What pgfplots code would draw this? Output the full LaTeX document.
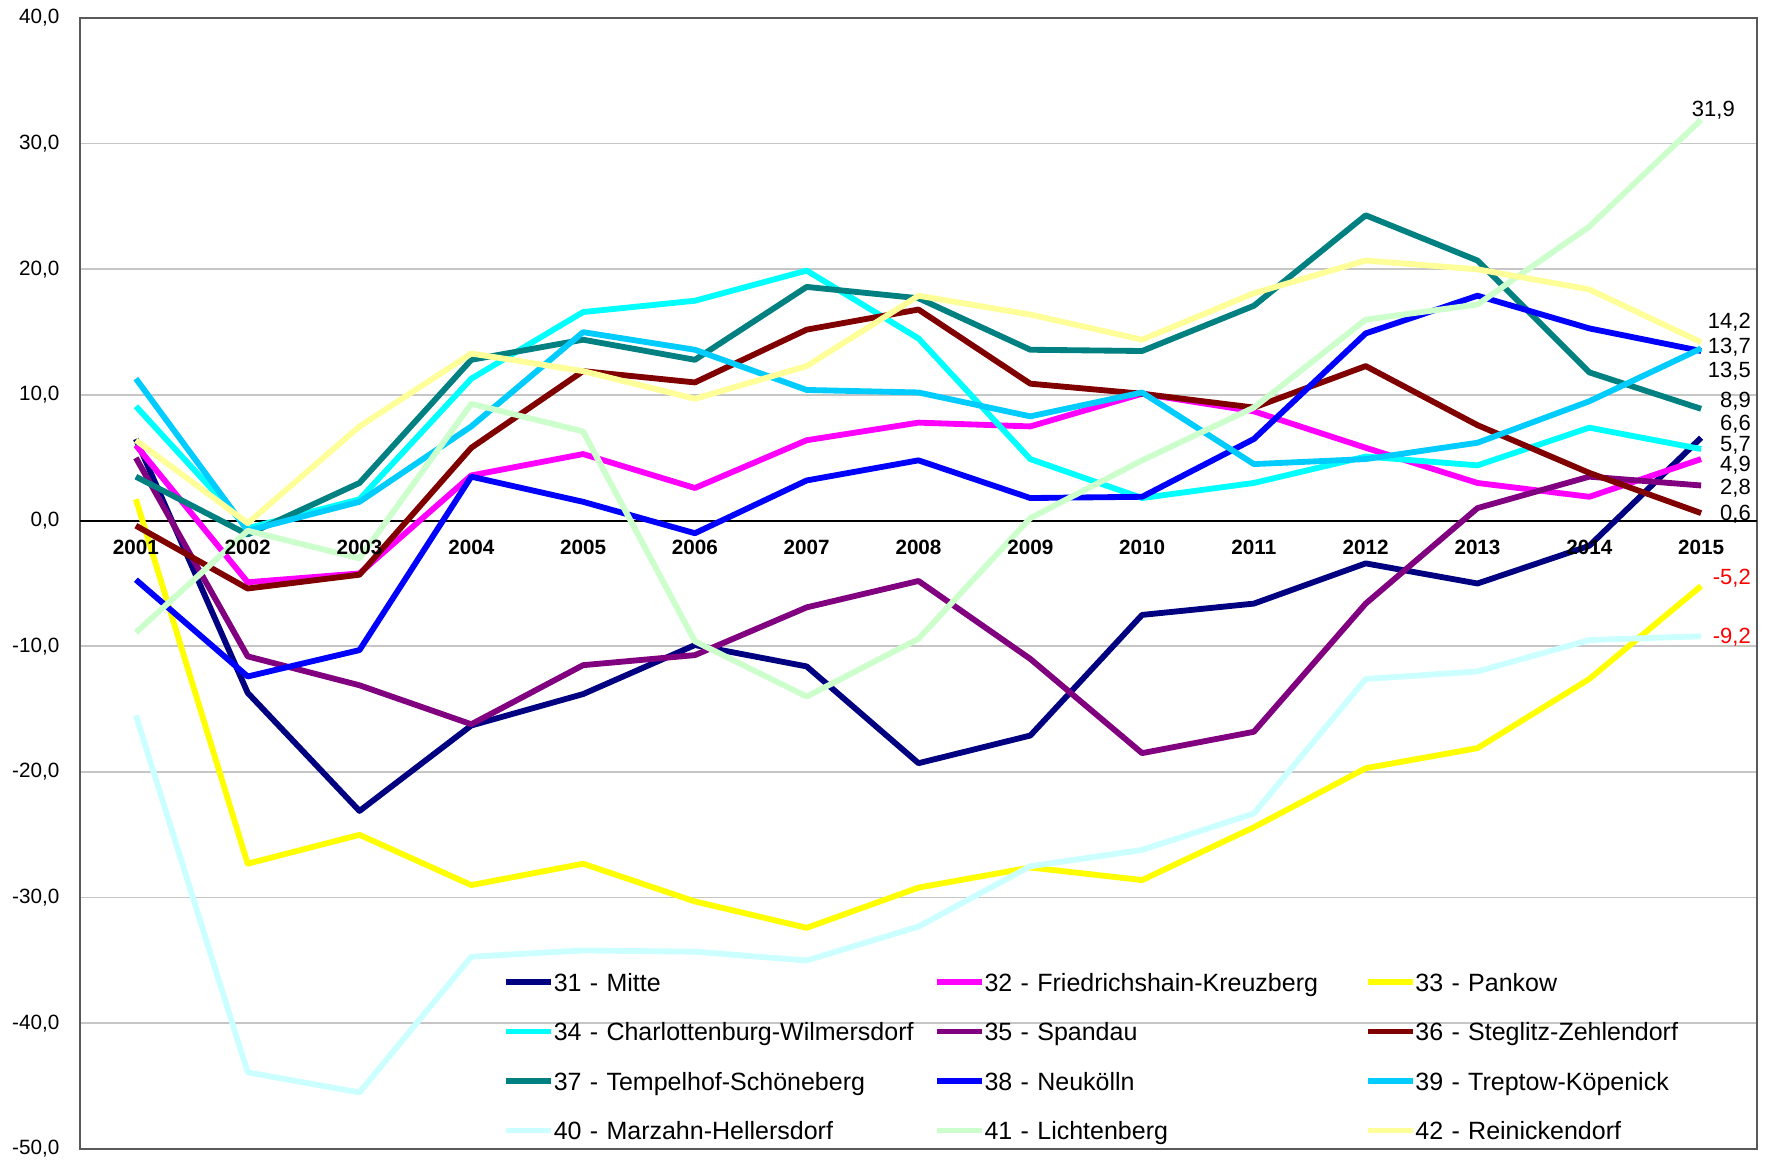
\documentclass[border=0pt]{standalone}
\usepackage{pgfplots}
\pgfplotsset{compat=1.18}
\usepackage{pgfplotstable}
\usepackage{fontspec}
\setmainfont{Liberation Sans}

\definecolor{cMitte}{RGB}{0,0,128}
\definecolor{cFK}{RGB}{255,0,255}
\definecolor{cPankow}{RGB}{255,255,0}
\definecolor{cCW}{RGB}{0,255,255}
\definecolor{cSpandau}{RGB}{128,0,128}
\definecolor{cSZ}{RGB}{128,0,0}
\definecolor{cTS}{RGB}{0,128,128}
\definecolor{cNeuk}{RGB}{0,0,255}
\definecolor{cTrep}{RGB}{0,204,255}
\definecolor{cMarz}{RGB}{204,255,255}
\definecolor{cLicht}{RGB}{204,255,204}
\definecolor{cRein}{RGB}{255,255,153}

\pgfplotstableread{
year Mitte FK Pankow CW Spandau SZ TS Neuk Trep Marz Licht Rein
2001 6.5 6.0 1.7 9.1 5.0 -0.4 3.5 -4.7 11.3 -15.5 -8.9 6.4
2002 -13.7 -4.9 -27.3 -0.6 -10.8 -5.4 -1.1 -12.4 -0.8 -43.9 -0.8 -0.2
2003 -23.1 -4.2 -25.0 1.7 -13.1 -4.3 3.0 -10.3 1.5 -45.5 -3.0 7.5
2004 -16.3 3.6 -29.0 11.3 -16.2 5.8 12.8 3.5 7.5 -34.7 9.3 13.3
2005 -13.8 5.3 -27.3 16.6 -11.5 11.9 14.4 1.5 15.0 -34.2 7.1 11.9
2006 -9.9 2.6 -30.3 17.5 -10.7 11.0 12.8 -1.0 13.6 -34.3 -9.6 9.7
2007 -11.6 6.4 -32.4 19.9 -6.9 15.2 18.6 3.2 10.4 -35.0 -14.0 12.3
2008 -19.3 7.8 -29.2 14.5 -4.8 16.8 17.7 4.8 10.2 -32.3 -9.4 17.9
2009 -17.1 7.5 -27.6 4.9 -11.0 10.9 13.6 1.8 8.3 -27.5 0.2 16.4
2010 -7.5 10.1 -28.6 1.8 -18.5 10.1 13.5 1.9 10.2 -26.2 4.8 14.4
2011 -6.6 8.7 -24.4 3.0 -16.8 9.0 17.1 6.5 4.5 -23.3 9.0 18.1
2012 -3.4 5.8 -19.7 5.1 -6.6 12.3 24.3 14.9 4.9 -12.6 16.0 20.7
2013 -5.0 3.0 -18.1 4.4 1.0 7.6 20.7 17.9 6.2 -12.0 17.2 20.0
2014 -2.0 1.9 -12.6 7.4 3.5 3.8 11.8 15.3 9.5 -9.5 23.4 18.4
2015 6.6 4.9 -5.2 5.7 2.8 0.6 8.9 13.5 13.7 -9.2 31.9 14.2
}\data

\newcommand{\lab}{\fontsize{6.6}{7.5}\selectfont}

\begin{document}
\begin{tikzpicture}
\useasboundingbox (-24pt,-3.3pt) rectangle (507pt,344.7pt);
\begin{axis}[
  scale only axis,
  width=503.1pt, height=339.3pt,
  xmin=2000.5, xmax=2015.5,
  ymin=-50, ymax=40,
  xtick=\empty,
  ytick={-50,-40,...,40},
  extra y ticks={0},
  extra y tick labels={},
  extra y tick style={grid style={black, line width=0.6pt}},
  major tick length=0pt,
  ymajorgrids,
  grid style={gray!45, line width=0.5pt},
  axis line style={gray!70!black, line width=0.7pt},
  yticklabel style={font=\fontsize{6.2}{7}\selectfont, anchor=east, inner sep=0pt, xshift=-6pt,
    /pgf/number format/.cd, fixed, fixed zerofill, precision=1, use comma, assume math mode=true},
  legend columns=3,
  legend cell align=left,
  legend style={draw=none, fill=none, at={(0.2522,0.1556)}, anchor=north west,
    inner sep=0pt, outer sep=0pt, row sep=9.45pt, column sep=0pt,
    font=\fontsize{7.5}{9}\selectfont,
    nodes={inner sep=0pt, text height=5.4pt, text depth=0pt, text width=114pt}},
  legend image code/.code={\draw[#1, line width=1.75pt] (0pt,0pt) -- (13.5pt,0pt);},
  every axis plot/.append style={no markers, line width=1.75pt, line join=round},
]
\addplot[cMitte] table[x=year,y=Mitte]{\data};
\addlegendentry{31 - Mitte}
\addplot[cFK] table[x=year,y=FK]{\data};
\addlegendentry{32 - Friedrichshain-Kreuzberg}
\addplot[cPankow] table[x=year,y=Pankow]{\data};
\addlegendentry{33 - Pankow}
\addplot[cCW] table[x=year,y=CW]{\data};
\addlegendentry{34 - Charlottenburg-Wilmersdorf}
\addplot[cSpandau] table[x=year,y=Spandau]{\data};
\addlegendentry{35 - Spandau}
\addplot[cSZ] table[x=year,y=SZ]{\data};
\addlegendentry{36 - Steglitz-Zehlendorf}
\addplot[cTS] table[x=year,y=TS]{\data};
\addlegendentry{37 - Tempelhof-Schöneberg}
\addplot[cNeuk] table[x=year,y=Neuk]{\data};
\addlegendentry{38 - Neukölln}
\addplot[cTrep] table[x=year,y=Trep]{\data};
\addlegendentry{39 - Treptow-Köpenick}
\addplot[cMarz] table[x=year,y=Marz]{\data};
\addlegendentry{40 - Marzahn-Hellersdorf}
\addplot[cLicht] table[x=year,y=Licht]{\data};
\addlegendentry{41 - Lichtenberg}
\addplot[cRein] table[x=year,y=Rein]{\data};
\addlegendentry{42 - Reinickendorf}

\pgfplotsinvokeforeach{2001,...,2015}{
  \node[anchor=north, inner sep=0pt, font=\bfseries\fontsize{6.2}{7}\selectfont, yshift=-5.7pt] at (axis cs:#1,0) {#1};
}

\node[anchor=center, inner sep=0pt, font=\lab] at (axis cs:2015.11,32.7) {31,9};
\node[anchor=east, inner sep=0pt, font=\lab] at (axis cs:2015.45,15.8) {14,2};
\node[anchor=east, inner sep=0pt, font=\lab] at (axis cs:2015.45,13.8) {13,7};
\node[anchor=east, inner sep=0pt, font=\lab] at (axis cs:2015.45,11.9) {13,5};
\node[anchor=east, inner sep=0pt, font=\lab] at (axis cs:2015.45,9.5) {8,9};
\node[anchor=east, inner sep=0pt, font=\lab] at (axis cs:2015.45,7.7) {6,6};
\node[anchor=east, inner sep=0pt, font=\lab] at (axis cs:2015.45,6.0) {5,7};
\node[anchor=east, inner sep=0pt, font=\lab] at (axis cs:2015.45,4.45) {4,9};
\node[anchor=east, inner sep=0pt, font=\lab] at (axis cs:2015.45,2.6) {2,8};
\node[anchor=east, inner sep=0pt, font=\lab] at (axis cs:2015.45,0.55) {0,6};
\node[anchor=east, inner sep=0pt, font=\lab, text=red] at (axis cs:2015.45,-4.6) {-5,2};
\node[anchor=east, inner sep=0pt, font=\lab, text=red] at (axis cs:2015.45,-9.3) {-9,2};
\node[anchor=north west, inner sep=0pt, font=\fontsize{8}{9}\selectfont, text=gray] at (axis cs:2014.89,-50.25) {50};
\end{axis}
\end{tikzpicture}
\end{document}
